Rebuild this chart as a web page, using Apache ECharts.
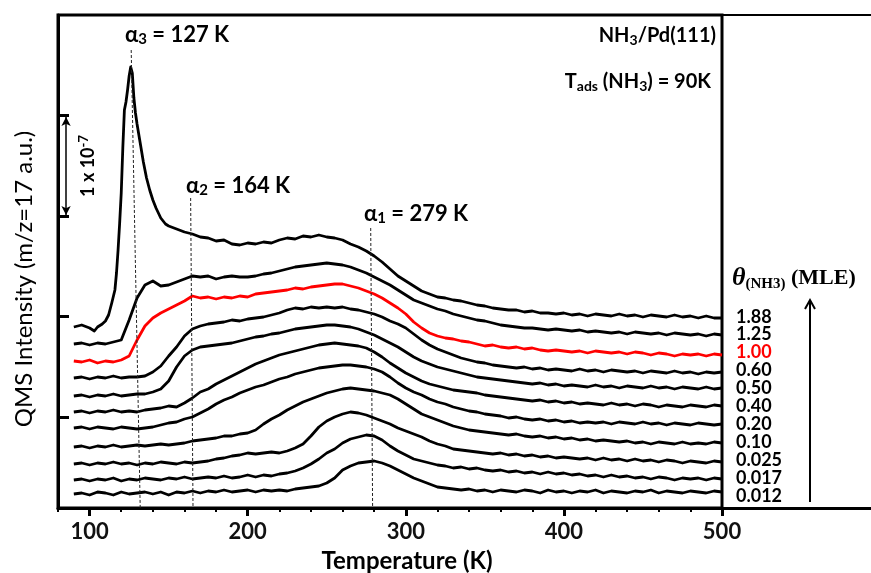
<!DOCTYPE html>
<html><head><meta charset="utf-8">
<script src="https://cdn.jsdelivr.net/npm/echarts@6/dist/echarts.min.js"></script>
<style>html,body{margin:0;padding:0;background:#fff}#c{width:871px;height:573px}</style>
</head><body><div id="c"></div>
<script>
// Temperature grid (K) shared by traces 1.25 ... 0.012
const temps = [
90,95,100,105,110,115,120,125,130,135,
140,145,150,155,160,165,170,175,180,185,
190,195,200,205,210,215,220,225,230,235,
240,245,250,255,260,265,270,275,280,285,
290,295,300,305,310,315,320,325,330,335,
340,345,350,355,360,365,370,375,380,385,
390,395,400,405,410,415,420,425,430,435,
440,445,450,455,460,465,470,475,480,485,
490,495,500];

// Trace for 1.88 MLE (own, denser grid around the alpha3 peak)
const t188Temps = [90,95,100,103,105,108,110,112,114,116,117,118,119,120,121,122,123,124,125,126,127,128,129,130,132,134,136,138,140,142,145,148,150,155,160,165,170,175,180,185,190,195,200,205,210,215,220,225,230,235,240,245,250,255,260,265,270,275,280,285,290,295,300,305,310,315,320,325,330,335,340,345,350,355,360,365,370,375,380,385,390,395,400,405,410,415,420,425,430,435,440,445,450,455,460,465,470,475,480,485,490,495,500];
const t188 = [181,183,180,177,181,184,187,193,205,218,235,258,285,315,360,398,406,418,432,441,435,410,395,384,365,346,330,318,308,300,290,284,282,279,276,274,271,270,267,268,264,263,265,264,266,265,268,270,269,272,271,273,271,270,268,264,261,257,252,246,239,232,227,222,217,214,211,210,208,207,205,203,202,200,199,198,198,196,197,195,195,194,195,193,194,192,194,193,192,194,192,193,191,193,192,191,193,191,192,190,192,190,190];

const t125 = [
164,165,163,165,164,166,168,188,210,223,
227,222,223,226,229,232,231,232,229,231,
232,231,231,232,234,235,237,239,241,242,
243,244,245,244,243,241,238,235,231,227,
223,218,213,208,205,202,199,197,194,192,
190,188,187,185,183,182,181,180,180,179,
178,179,178,177,178,176,177,176,175,176,
174,176,175,174,175,173,175,174,173,174,
172,174,173];
const t100 = [
147,146,148,145,147,146,148,152,168,182,
190,195,199,203,207,212,210,211,209,211,
210,212,211,214,215,216,217,218,220,219,
221,222,223,224,224,222,220,217,214,210,
205,200,194,186,180,175,172,170,169,167,
166,164,162,163,161,160,161,159,160,158,
157,158,157,156,157,155,157,156,155,156,
154,156,155,153,155,154,152,154,153,154,
152,154,153];
const t060 = [
130,131,129,131,130,132,130,131,131,132,
136,142,152,161,172,179,182,184,185,186,
188,187,189,190,191,193,195,198,200,199,
201,200,201,200,201,199,198,196,194,191,
187,184,180,174,168,163,159,156,153,150,
148,146,145,143,142,141,140,141,139,140,
138,139,138,137,139,137,138,136,138,137,
136,137,135,137,136,135,137,135,136,134,
136,135,136];
const t050 = [
112,113,111,113,112,114,112,113,114,114,
116,119,127,141,152,158,161,162,163,164,
165,167,169,171,172,174,175,177,179,180,
181,182,183,183,182,181,179,176,173,169,
165,161,156,151,147,144,141,139,137,135,
133,131,130,129,128,127,126,125,124,125,
123,124,122,123,122,121,123,121,122,120,
122,121,120,122,120,121,119,121,120,119,
121,119,120];
const t040 = [
96,97,95,97,96,98,96,97,96,98,
99,100,102,101,105,110,116,119,124,128,
132,136,140,144,147,150,153,155,157,159,
161,163,164,165,164,163,162,160,156,151,
145,140,135,131,127,124,122,120,118,117,
116,115,113,112,111,110,109,108,107,108,
106,107,105,106,104,105,104,103,105,103,
104,102,104,103,101,103,102,101,103,102,
101,103,102];
const t020 = [
80,81,79,81,80,79,81,80,79,80,
81,83,85,86,89,91,95,99,104,108,
111,115,118,121,123,126,129,131,134,136,
138,140,141,142,143,143,142,141,139,136,
131,125,120,116,113,109,106,104,101,99,
97,96,94,93,92,90,91,89,88,89,
87,88,86,87,85,86,85,86,84,86,
85,84,86,84,85,83,85,84,83,85,
84,83,84];
const t010 = [
61,62,60,62,61,63,61,62,63,62,
63,64,63,64,65,67,68,69,70,72,
72,74,75,78,84,89,93,98,102,106,
109,112,115,117,119,120,119,118,117,115,
113,109,104,99,94,91,88,85,82,80,
78,77,76,75,74,73,74,72,71,72,
70,71,69,70,68,69,67,68,67,66,
67,65,66,64,66,65,64,66,64,65,
64,66,65];
const t0025 = [
44,45,43,45,44,46,44,45,43,45,
44,46,45,44,46,45,46,47,49,50,
52,53,55,54,55,56,55,57,60,64,
72,81,87,91,94,96,95,93,90,87,
84,80,77,74,71,67,64,62,59,58,
57,56,55,54,55,53,54,52,53,51,
52,50,51,50,49,50,48,50,48,49,
47,49,47,48,46,48,47,45,47,46,
45,47,46];
const t0017 = [
28,29,27,29,28,30,27,29,28,30,
29,28,30,29,31,29,30,31,30,32,
30,31,33,31,33,32,34,35,37,40,
44,49,55,59,65,69,71,73,72,68,
62,57,53,49,47,45,43,42,40,41,
39,40,38,37,38,36,37,35,36,34,
36,34,35,33,34,32,33,31,33,31,
32,30,31,29,31,30,28,30,29,30,
28,30,29];
const t0012 = [
14,15,13,16,15,13,16,14,15,16,
14,16,13,16,15,17,15,17,16,18,
16,17,18,16,18,17,18,17,19,20,
21,22,25,30,38,42,45,46,47,45,
42,38,34,30,27,24,21,20,19,18,
19,17,18,16,18,17,16,18,17,15,
18,16,17,15,17,16,18,15,17,16,
15,17,16,18,15,17,16,15,17,16,
15,17,16];

const coverageLabels = ['1.88','1.25','1.00','0.60','0.50','0.40','0.20','0.10','0.025','0.017','0.012'];
const xTickLabels = [100,200,300,400,500];
const yTickValues = [91,192,292,393];
const peakNames = ['α3','α2','α1'];
const peakTemps = [127,164,279];

const RED = '#ff0000';
const traces = [
  {name:'1.88', x:t188Temps, y:t188, color:'#000'},
  {name:'1.25', x:temps, y:t125, color:'#000'},
  {name:'1.00', x:temps, y:t100, color:RED},
  {name:'0.60', x:temps, y:t060, color:'#000'},
  {name:'0.50', x:temps, y:t050, color:'#000'},
  {name:'0.40', x:temps, y:t040, color:'#000'},
  {name:'0.20', x:temps, y:t020, color:'#000'},
  {name:'0.10', x:temps, y:t010, color:'#000'},
  {name:'0.025', x:temps, y:t0025, color:'#000'},
  {name:'0.017', x:temps, y:t0017, color:'#000'},
  {name:'0.012', x:temps, y:t0012, color:'#000'}
];

const series = traces.map(t => ({
  type:'line', name:t.name, xAxisIndex:0, yAxisIndex:0,
  data: t.x.map((v,i)=>[v, t.y[i]]),
  showSymbol:false, symbol:'none', silent:true,
  lineStyle:{color:t.color, width:2.8, join:'round'}, z: t.color===RED?3:2
}));

series.push({
  type:'line', data:[], xAxisIndex:0, yAxisIndex:0, silent:true,
  markLine:{
    silent:true, symbol:'none', animation:false,
    label:{show:false},
    lineStyle:{color:'#222', width:1, type:[3,2]},
    data:[
      [{coord:[126.3,458]},{coord:[132,0]}],
      [{coord:[163.9,310]},{coord:[165.4,0]}],
      [{coord:[277.8,280]},{coord:[279.0,0]}]
    ]
  }
});
series.push({
  type:'line', data:[], xAxisIndex:0, yAxisIndex:0, silent:true,
  markLine:{
    silent:true, symbol:['arrow','arrow'], symbolSize:[7,9], animation:false,
    label:{show:false},
    lineStyle:{color:'#000', width:1.5, type:'solid'},
    data:[[{coord:[85.1,391]},{coord:[85.1,293]}]]
  }
});

const F = 'Lato, "Open Sans", sans-serif';
const SERIF = '"Liberation Serif", "DejaVu Serif", serif';
function txt(x, y, text, opt){
  return Object.assign({type:'text', x:x, y:y, silent:true,
    style:Object.assign({text:text, fill:'#000', fontFamily:F, fontWeight:'bold', fontSize:20,
      align:'left', verticalAlign:'middle'}, opt||{})});
}
const sub = (fs)=>({fontSize:fs, fontFamily:F, fontWeight:'bold', fill:'#000', padding:[9,0,0,0]});
const norm = (fs)=>({fontSize:fs, fontFamily:F, fontWeight:'bold', fill:'#000'});

const graphics = [
  {type:'line', silent:true, shape:{x1:722,y1:15,x2:871,y2:15}, style:{stroke:'#000', lineWidth:2}},
  {type:'line', silent:true, shape:{x1:722,y1:508.5,x2:871,y2:508.5}, style:{stroke:'#000', lineWidth:3}},
  {type:'line', silent:true, shape:{x1:810,y1:502,x2:810,y2:301}, style:{stroke:'#000', lineWidth:2}},
  {type:'polyline', silent:true, shape:{points:[[805,309],[810,300],[815,309]]}, style:{stroke:'#000', lineWidth:2, fill:null}},
];
const peakPos = [[125,35],[186,186],[364,214]];
peakNames.forEach((n,i)=>{
  graphics.push(txt(peakPos[i][0], peakPos[i][1],
    '{a|α}{s|'+n.slice(1)+'}{a| = '+peakTemps[i]+' K}', {rich:{a:norm(22), s:sub(15)}}));
});
graphics.push(txt(716, 36, '{a|NH}{s|3}{a|/Pd(111)}', {align:'right', rich:{a:norm(20), s:sub(14)}}));
graphics.push(txt(711, 82, '{a|T}{s|ads}{a| (NH}{s|3}{a|) = 90K}', {align:'right', rich:{a:norm(20), s:sub(14)}}));
graphics.push(txt(732, 278, '{t|θ}{s|(NH3)}{m| (MLE)}', {rich:{
  t:{fontSize:26, fontFamily:SERIF, fontWeight:'bold', fontStyle:'italic', fill:'#000'},
  s:{fontSize:15, fontFamily:SERIF, fontWeight:'bold', fill:'#000', padding:[12,0,0,0]},
  m:{fontSize:22, fontFamily:SERIF, fontWeight:'bold', fill:'#000'}}}));
coverageLabels.forEach((l,i)=>{
  graphics.push(txt(736, 316.7 + i*17.9, l, {fontSize:18, fill: l==='1.00'?RED:'#000'}));
});
graphics.push({type:'text', x:24, y:279, rotation:Math.PI/2, silent:true,
  style:{text:'QMS Intensity (m/z=17 a.u.)', fill:'#000', fontFamily:F, fontWeight:'normal', fontSize:24, align:'center', verticalAlign:'middle'}});
graphics.push({type:'text', x:407, y:561, silent:true,
  style:{text:'Temperature (K)', fill:'#000', fontFamily:F, fontWeight:'bold', fontSize:24, align:'center', verticalAlign:'middle'}});
graphics.push({type:'text', x:88, y:166, rotation:Math.PI/2, silent:true,
  style:{text:'{a|1 x 10}{p|-7}', align:'center', verticalAlign:'middle', fill:'#000',
    rich:{a:norm(18), p:{fontSize:13, fontFamily:F, fontWeight:'bold', fill:'#000', padding:[0,0,9,0]}}}});

const chart = echarts.init(document.getElementById('c'), null, {renderer:'canvas'});
chart.setOption({
  animation:false,
  backgroundColor:'#fff',
  grid:{left:58, right:149, top:15, bottom:65, show:true, borderColor:'#000', borderWidth:3, backgroundColor:'transparent'},
  xAxis:[
    {type:'value', min:80, max:500, interval:20, position:'bottom',
      axisLine:{show:true, lineStyle:{color:'#000', width:3}},
      axisTick:{show:true, length:4, lineStyle:{color:'#000', width:2}},
      axisLabel:{show:false}, splitLine:{show:false}},
    {type:'value', min:80, max:500, position:'bottom',
      axisLine:{show:false},
      axisTick:{show:true, length:8, customValues:xTickLabels, lineStyle:{color:'#000', width:3}},
      axisLabel:{show:true, customValues:xTickLabels, margin:13, fontSize:22, fontFamily:F, fontWeight:'bold', color:'#111'},
      splitLine:{show:false}}
  ],
  yAxis:{type:'value', min:0, max:493,
    axisLine:{show:true, lineStyle:{color:'#000', width:3}},
    axisTick:{show:true, inside:true, length:11, customValues:yTickValues, lineStyle:{color:'#000', width:3}},
    axisLabel:{show:false}, splitLine:{show:false}},
  series: series,
  graphic: graphics
});
</script>
</body></html>
